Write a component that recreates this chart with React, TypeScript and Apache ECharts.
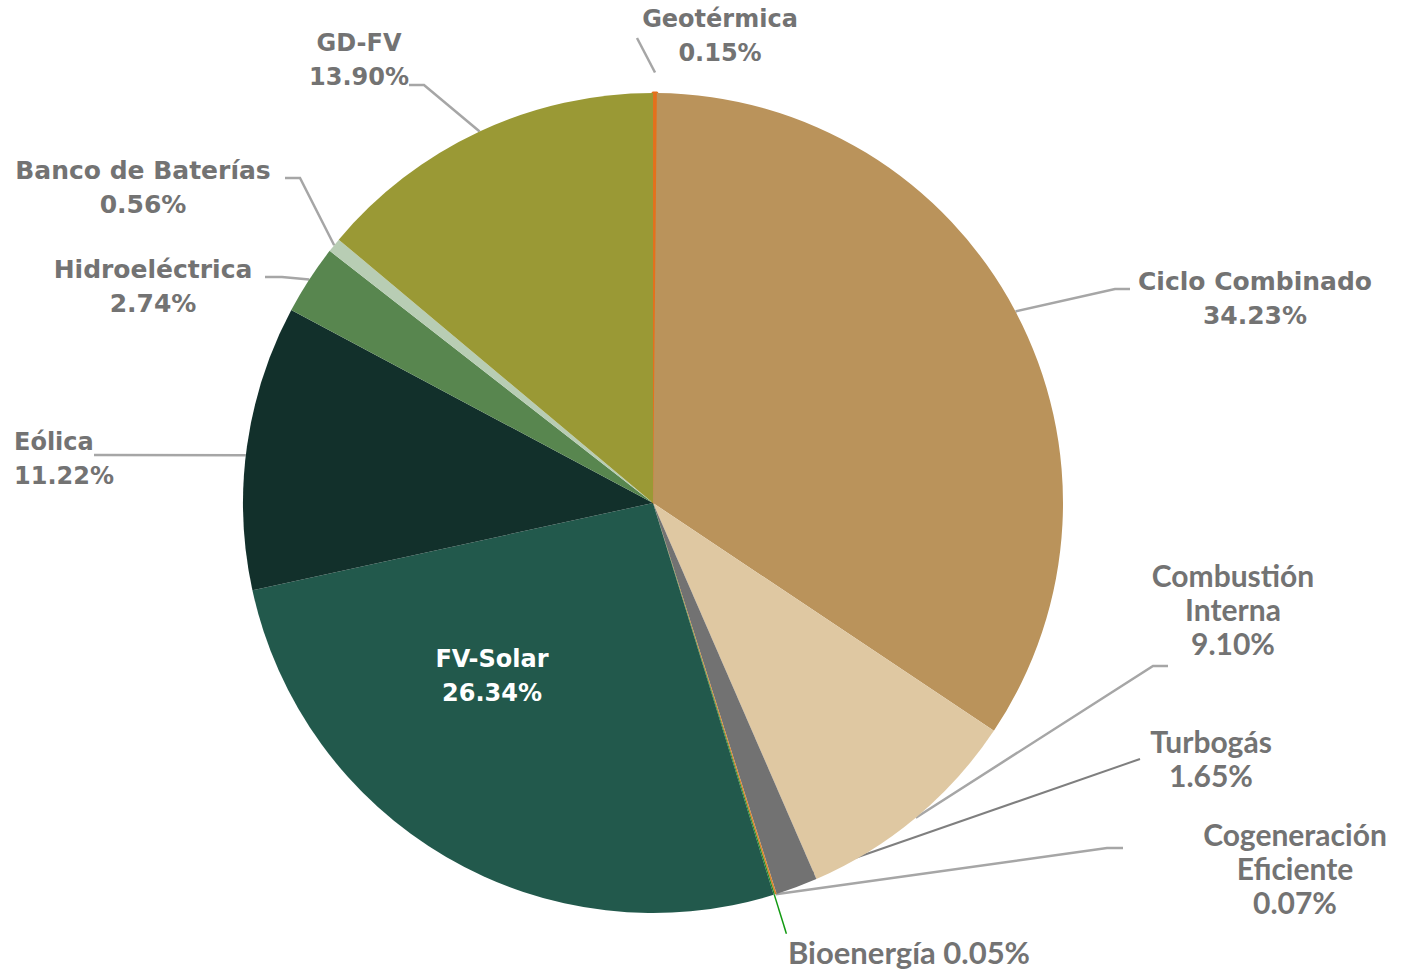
import React, { useEffect, useRef } from "react";
import * as echarts from "echarts";

// ---- data ----
const categories = [
  "Geotérmica",
  "Ciclo Combinado",
  "Combustión Interna",
  "Turbogás",
  "Cogeneración Eficiente",
  "Bioenergía",
  "FV-Solar",
  "Eólica",
  "Hidroeléctrica",
  "Banco de Baterías",
  "GD-FV",
];
const shares = [0.15, 34.23, 9.1, 1.65, 0.07, 0.05, 26.34, 11.22, 2.74, 0.56, 13.9];
const labelNames = [
  "Geotérmica",
  "Ciclo Combinado",
  "Combustión\nInterna",
  "Turbogás",
  "Cogeneración\nEficiente",
  "Bioenergía",
  "FV-Solar",
  "Eólica",
  "Hidroeléctrica",
  "Banco de Baterías",
  "GD-FV",
];

// ---- styles ----
const colors = [
  "#E4711C",
  "#BA935B",
  "#DFC8A2",
  "#727272",
  "#D9822B",
  "#1E8A1E",
  "#22594C",
  "#12302B",
  "#58864F",
  "#B8CDB4",
  "#9A9935",
];
const CX = 653;
const CY = 503;
const R = 410;
const TEXT = "#737373";
const VERDANA = "DejaVu Sans";
const CALIBRI = "Lato";

type Lay = {
  x: number;
  y: number;
  align: "left" | "center" | "right";
  startR: number;
  angOff?: number;
  pts: number[][];
  font: string;
  size: number;
  color: string;
  line: string;
  lineW: number;
  sep: string;
  outerR?: number;
};

const layouts: Lay[] = [
  { x: 720, y: 36, align: "center", startR: 1.05, pts: [[637, 38]], font: VERDANA, size: 24, color: TEXT, line: "#A6A6A6", lineW: 2.5, sep: "\n" },
  { x: 1255, y: 298, align: "center", startR: 1.0, pts: [[1115, 289], [1130, 289]], font: VERDANA, size: 25, color: TEXT, line: "#A6A6A6", lineW: 2.5, sep: "\n" },
  { x: 1233, y: 609, align: "center", startR: 1.0, pts: [[1153, 666], [1168, 666]], font: CALIBRI, size: 30, color: TEXT, line: "#A6A6A6", lineW: 2.5, sep: "\n" },
  { x: 1211, y: 758, align: "center", startR: 0.98, pts: [[1140, 759]], font: CALIBRI, size: 30, color: TEXT, line: "#7F7F7F", lineW: 2, sep: "\n" },
  { x: 1295, y: 868, align: "center", startR: 1.0, pts: [[1107, 848], [1123, 848]], font: CALIBRI, size: 30, color: TEXT, line: "#A6A6A6", lineW: 2.5, sep: "\n" },
  { x: 909, y: 952, align: "center", startR: 1.0, pts: [], outerR: 1.1, font: CALIBRI, size: 31, color: TEXT, line: "#129A12", lineW: 1.5, sep: " " },
  { x: 492, y: 676, align: "center", startR: 0, pts: [], font: VERDANA, size: 24, color: "#FFFFFF", line: "none", lineW: 0, sep: "\n" },
  { x: 14, y: 459, align: "left", startR: 1.0, angOff: -1.2, pts: [[94, 455]], font: VERDANA, size: 24, color: TEXT, line: "#A6A6A6", lineW: 2.5, sep: "\n" },
  { x: 153, y: 286, align: "center", startR: 1.0, pts: [[282, 277], [265, 277]], font: VERDANA, size: 25, color: TEXT, line: "#A6A6A6", lineW: 2.5, sep: "\n" },
  { x: 143, y: 187, align: "center", startR: 1.0, pts: [[300, 178], [285, 178]], font: VERDANA, size: 25, color: TEXT, line: "#A6A6A6", lineW: 2.5, sep: "\n" },
  { x: 359, y: 60, align: "center", startR: 1.0, pts: [[424, 85], [409, 85]], font: VERDANA, size: 24, color: TEXT, line: "#A6A6A6", lineW: 2.5, sep: "\n" },
];

function midAngles(): number[] {
  const total = shares.reduce((a, b) => a + b, 0);
  let cum = 0;
  return shares.map((v) => {
    const mid = ((cum + v / 2) / total) * 360;
    cum += v;
    return mid;
  });
}

function polar(deg: number, r: number): number[] {
  const t = (deg * Math.PI) / 180;
  return [CX + r * Math.sin(t), CY - r * Math.cos(t)];
}

export default function App() {
  const ref = useRef<HTMLDivElement>(null);
  useEffect(() => {
    if (!ref.current) return;
    const chart = echarts.init(ref.current, null, { renderer: "svg" });
    const mids = midAngles();

    const data = categories.map((name, i) => {
      const L = layouts[i];
      const inside = i === 6;
      const thin = i === 0;
      return {
        name,
        value: shares[i],
        itemStyle: thin
          ? { color: colors[i], borderColor: colors[i], borderWidth: 3 }
          : { color: colors[i] },
        label: {
          show: true,
          position: inside ? "inside" : "outside",
          fontFamily: L.font,
          fontSize: L.size,
          fontWeight: "bold",
          color: L.color,
          lineHeight: 34,
          align: L.align,
        },
        labelLine: inside
          ? { show: false }
          : { show: true, lineStyle: { color: L.line, width: L.lineW } },
      };
    });

    const option: any = {
      animation: false,
      backgroundColor: "#ffffff",
      series: [
        {
          type: "pie",
          center: [CX, CY],
          radius: R,
          startAngle: 90,
          clockwise: true,
          avoidLabelOverlap: false,
          minAngle: 0,
          itemStyle: { borderWidth: 0 },
          emphasis: { disabled: true },
          data,
          label: {
            formatter: (p: any) =>
              labelNames[p.dataIndex] + layouts[p.dataIndex].sep + Number(p.value).toFixed(2) + "%",
          },
          labelLayout: (params: any) => {
            const i = params.dataIndex;
            const L = layouts[i];
            const res: any = {
              x: L.x,
              y: L.y,
              align: L.align,
              verticalAlign: "middle",
            };
            if (i !== 6) {
              const ang = mids[i] + (L.angOff || 0);
              const start = polar(ang, R * L.startR);
              const pts = [start, ...L.pts];
              if (L.outerR) pts.push(polar(mids[i], R * L.outerR));
              res.labelLinePoints = pts;
            }
            return res;
          },
        },
      ],
    };
    chart.setOption(option);
    return () => chart.dispose();
  }, []);
  return (
    <div
      ref={ref}
      style={{ position: "fixed", left: 0, top: 0, width: 1412, height: 970, background: "#fff" }}
    />
  );
}
